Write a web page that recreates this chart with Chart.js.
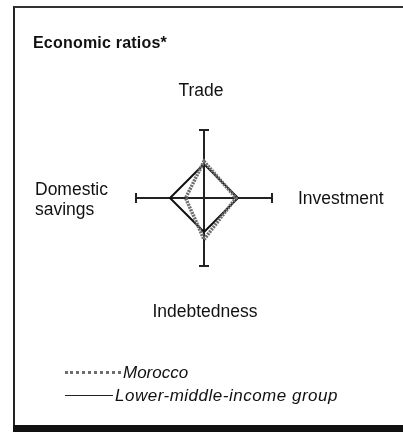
<!DOCTYPE html>
<html>
<head>
<meta charset="utf-8">
<script src="https://cdn.jsdelivr.net/npm/chart.js@4/dist/chart.umd.min.js"></script>
<style>
  html, body { margin: 0; padding: 0; background: #fff; overflow: hidden; }
  body { width: 403px; height: 432px; position: relative; font-family: "Liberation Sans", Arial, sans-serif; color: #111; }
  #wrap { position: absolute; left: 0; top: 0; width: 403px; height: 432px; }
  #frame { position: absolute; left: 13px; top: 6px; width: 500px; height: 419px; border-left: 2px solid #222; border-top: 2px solid #333; }
  #frameBottom { position: absolute; left: 13px; top: 425px; width: 500px; height: 7px; background: #111; }
  #title { position: absolute; left: 33px; top: 34px; font-weight: bold; font-size: 16px; line-height: 18px; letter-spacing: 0.2px; }
  .leg { position: absolute; left: 65px; font-style: italic; font-size: 17px; line-height: 20px; white-space: nowrap; }
  .leg .sw { display: inline-block; vertical-align: middle; margin-right: 2px; position: relative; top: -1px; }
</style>
</head>
<body>
<div id="wrap"><canvas id="c" width="403" height="432"></canvas></div>
<div id="frame"></div>
<div id="frameBottom"></div>
<div id="title">Economic ratios*</div>
<div class="leg" style="top:363px;"><span class="sw" id="sw0" style="width:56px;border-top:3px dotted #6e6e6e;"></span>Morocco</div>
<div class="leg" style="top:386px;letter-spacing:0.5px;"><span class="sw" id="sw1" style="width:48px;border-top:1.5px solid #222;"></span>Lower-middle-income group</div>
<script>
// ---- data ----
const categories = ["Trade", "Investment", "Indebtedness", "Domestic savings"];
const moroccoValues = [0.54, 0.47, 0.61, 0.27];
const groupValues = [0.50, 0.50, 0.50, 0.50];
const seriesNames = ["Morocco", "Lower-middle-income group"];
const scaleMin = 0;
const scaleMax = 1;

// axis-end caps and outer labels
const axisDecor = {
  id: 'axisDecor',
  afterDatasetsDraw(chart) {
    const r = chart.scales.r;
    const ctx = chart.ctx;
    ctx.save();
    ctx.strokeStyle = '#222';
    ctx.lineWidth = 2;
    const cap = 5;
    for (let i = 0; i < categories.length; i++) {
      const p = r.getPointPositionForValue(i, scaleMax);
      const dx = p.x - r.xCenter, dy = p.y - r.yCenter;
      const len = Math.hypot(dx, dy) || 1;
      const nx = -dy / len, ny = dx / len;
      ctx.beginPath();
      ctx.moveTo(p.x - nx * cap, p.y - ny * cap);
      ctx.lineTo(p.x + nx * cap, p.y + ny * cap);
      ctx.stroke();
    }
    // labels
    ctx.fillStyle = '#111';
    ctx.font = '17.5px "Liberation Sans", Arial, sans-serif';
    ctx.textBaseline = 'middle';
    const p0 = r.getPointPositionForValue(0, scaleMax);
    ctx.textAlign = 'center';
    ctx.fillText(categories[0], p0.x - 3, p0.y - 39);
    const p1 = r.getPointPositionForValue(1, scaleMax);
    ctx.textAlign = 'left';
    ctx.fillText(categories[1], p1.x + 26, p1.y + 1);
    const p2 = r.getPointPositionForValue(2, scaleMax);
    ctx.textAlign = 'center';
    ctx.fillText(categories[2], p2.x + 1, p2.y + 46);
    const p3 = r.getPointPositionForValue(3, scaleMax);
    ctx.textAlign = 'left';
    const parts = categories[3].split(' ');
    ctx.fillText(parts[0], p3.x - 101, p3.y - 8);
    ctx.fillText(parts[1], p3.x - 101, p3.y + 12);
    ctx.restore();
  }
};

new Chart(document.getElementById('c'), {
  type: 'radar',
  data: {
    labels: categories,
    datasets: [
      {
        label: seriesNames[0],
        data: moroccoValues,
        borderColor: '#6e6e6e',
        borderWidth: 3.5,
        borderDash: [2, 1],
        fill: false,
        pointRadius: 0,
        tension: 0
      },
      {
        label: seriesNames[1],
        data: groupValues,
        borderColor: '#111',
        borderWidth: 2,
        fill: false,
        pointRadius: 0,
        tension: 0
      }
    ]
  },
  options: {
    responsive: false,
    animation: false,
    layout: { padding: { left: 136, right: 131, top: 130, bottom: 166 } },
    plugins: { legend: { display: false }, title: { display: false }, tooltip: { enabled: false } },
    scales: {
      r: {
        min: scaleMin,
        max: scaleMax,
        ticks: { display: false },
        grid: { display: false },
        angleLines: { display: true, color: '#222', lineWidth: 2 },
        pointLabels: { display: false }
      }
    }
  },
  plugins: [axisDecor]
});
</script>
</body>
</html>
